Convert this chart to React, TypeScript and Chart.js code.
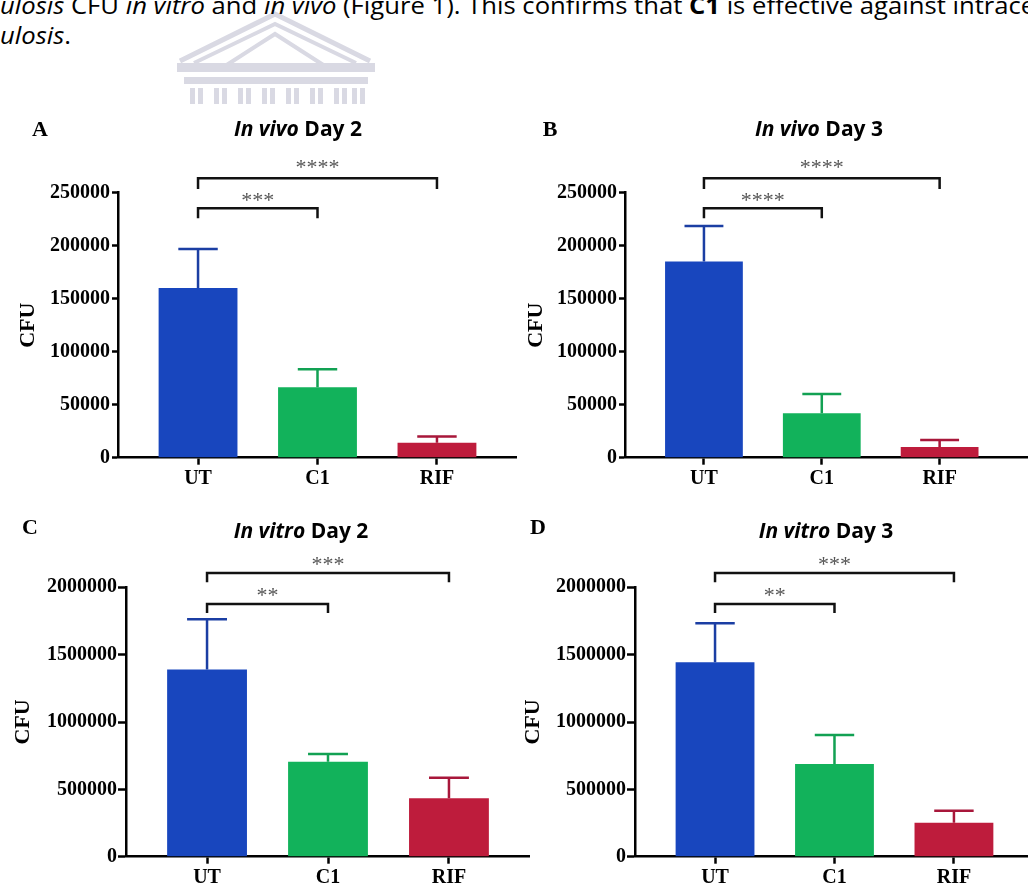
import React, { useEffect, useRef } from "react";
import { Chart, registerables } from "chart.js";

Chart.register(...registerables);

// ---------- data ----------
const categories = ["UT", "C1", "RIF"];
const panelLetters = ["A", "B", "C", "D"];
const titleItalic = ["In vivo", "In vivo", "In vitro", "In vitro"];
const titleRest = [" Day 2", " Day 3", " Day 2", " Day 3"];

const meansA = [160000, 66500, 14000];
const sdA = [37000, 17000, 6000];
const meansB = [185000, 42000, 10000];
const sdB = [33600, 18000, 6800];
const meansC = [1390000, 705000, 433000];
const sdC = [372000, 57000, 153000];
const meansD = [1443000, 688000, 252000];
const sdD = [290000, 215000, 90000];

// [UT vs C1, UT vs RIF]
const starsA = ["***", "****"];
const starsB = ["****", "****"];
const starsC = ["**", "***"];
const starsD = ["**", "***"];

const yMaxInVivo = 250000;
const yStepInVivo = 50000;
const yMaxInVitro = 2000000;
const yStepInVitro = 500000;

// ---------- styles ----------
const barColors = ["#1846be", "#12b25b", "#be1c3c"];
const errColors = ["#1b3ea3", "#12a153", "#a8173a"];
const SERIF = '"Liberation Serif", "Times New Roman", serif';
const SANS = '"Open Sans", "Noto Sans", sans-serif';

type Layout = {
  left: number; top: number; w: number; h: number;
  plotLeft: number; plotTop: number; plotBottom: number;
  xMin: number; xMax: number;
  yTick: number; yPad: number; cfuPad: number;
  letterX: number; letterY: number; titleX: number; titleY: number;
  off: { outerY: number; outerLeg: number; innerY: number; innerLeg: number; outerStar: number; innerStar: number };
};

const offVivo = { outerY: -14.5, outerLeg: -3.7, innerY: 15.5, innerLeg: 25.5, outerStar: -28.5, innerStar: 4.2 };
const offVitro = { outerY: -14.3, outerLeg: -5, innerY: 16.7, innerLeg: 25.7, outerStar: -26.3, innerStar: 4.7 };

const layouts: Layout[] = [
  { left: 0, top: 110, w: 517, h: 390, plotLeft: 118, plotTop: 82.7, plotBottom: 347.7, xMin: -0.67, xMax: 2.67,
    yTick: 6, yPad: 2, cfuPad: 15, letterX: 40, letterY: 20, titleX: 298, titleY: 20, off: offVivo },
  { left: 500, top: 110, w: 528, h: 390, plotLeft: 125, plotTop: 82.7, plotBottom: 347.7, xMin: -0.67, xMax: 2.75,
    yTick: 6, yPad: 2, cfuPad: 23, letterX: 50, letterY: 20, titleX: 319, titleY: 20, off: offVivo },
  { left: 0, top: 500, w: 530, h: 386, plotLeft: 126, plotTop: 87.3, plotBottom: 356.7, xMin: -0.67, xMax: 2.67,
    yTick: 8, yPad: 1, cfuPad: 10, letterX: 30, letterY: 28, titleX: 301, titleY: 32, off: offVitro },
  { left: 500, top: 500, w: 528, h: 386, plotLeft: 135, plotTop: 87.3, plotBottom: 356.7, xMin: -0.67, xMax: 2.62,
    yTick: 8, yPad: 1, cfuPad: 20, letterX: 38, letterY: 28, titleX: 326, titleY: 32, off: offVitro },
];

const panelMeans = [meansA, meansB, meansC, meansD];
const panelSd = [sdA, sdB, sdC, sdD];
const panelStars = [starsA, starsB, starsC, starsD];
const panelYMax = [yMaxInVivo, yMaxInVivo, yMaxInVitro, yMaxInVitro];
const panelYStep = [yStepInVivo, yStepInVivo, yStepInVitro, yStepInVitro];

function makeDecor(idx: number) {
  const L = layouts[idx];
  const means = panelMeans[idx];
  const sd = panelSd[idx];
  const stars = panelStars[idx];
  return {
    id: "panelDecor" + idx,
    afterDatasetsDraw(chart: any) {
      const ctx = chart.ctx;
      const meta = chart.getDatasetMeta(0);
      const ys = chart.scales.y;
      meta.data.forEach((bar: any, i: number) => {
        const { x, y, width } = bar.getProps(["x", "y", "width"], true);
        const top = ys.getPixelForValue(means[i] + sd[i]);
        ctx.save();
        ctx.strokeStyle = errColors[i];
        ctx.lineWidth = 2.5;
        ctx.beginPath();
        ctx.moveTo(x, y);
        ctx.lineTo(x, top);
        ctx.moveTo(x - width / 4, top);
        ctx.lineTo(x + width / 4, top);
        ctx.stroke();
        ctx.restore();
      });
    },
    afterDraw(chart: any) {
      const ctx = chart.ctx;
      const xs = chart.scales.x;
      const top = chart.chartArea.top;
      ctx.save();
      // panel letter
      ctx.fillStyle = "#000";
      ctx.font = `bold 22px ${SERIF}`;
      ctx.textAlign = "center";
      ctx.textBaseline = "middle";
      ctx.fillText(panelLetters[idx], L.letterX, L.letterY);
      // title with italic part
      const fItal = `italic 700 21px ${SANS}`;
      const fReg = `700 21px ${SANS}`;
      ctx.font = fItal;
      const w1 = ctx.measureText(titleItalic[idx]).width;
      ctx.font = fReg;
      const w2 = ctx.measureText(titleRest[idx]).width;
      const sx = L.titleX - (w1 + w2) / 2;
      ctx.textAlign = "left";
      ctx.font = fItal;
      ctx.fillText(titleItalic[idx], sx, L.titleY);
      ctx.font = fReg;
      ctx.fillText(titleRest[idx], sx + w1, L.titleY);
      // significance brackets
      const x0 = xs.getPixelForValue(0);
      const comps = [
        { to: 1, s: stars[0], y: L.off.innerY, leg: L.off.innerLeg, sy: L.off.innerStar },
        { to: 2, s: stars[1], y: L.off.outerY, leg: L.off.outerLeg, sy: L.off.outerStar },
      ];
      comps.forEach((c) => {
        const x1 = xs.getPixelForValue(c.to);
        ctx.strokeStyle = "#111";
        ctx.lineWidth = 2.5;
        ctx.lineJoin = "miter";
        ctx.beginPath();
        ctx.moveTo(x0, top + c.leg);
        ctx.lineTo(x0, top + c.y);
        ctx.lineTo(x1, top + c.y);
        ctx.lineTo(x1, top + c.leg);
        ctx.stroke();
        ctx.fillStyle = "#555";
        ctx.font = `22px ${SERIF}`;
        ctx.textAlign = "center";
        ctx.textBaseline = "alphabetic";
        ctx.fillText(c.s, (x0 + x1) / 2, top + c.sy + 10);
      });
      ctx.restore();
    },
  };
}

function Panel({ idx }: { idx: number }) {
  const ref = useRef<HTMLCanvasElement>(null);
  const L = layouts[idx];
  useEffect(() => {
    const means = panelMeans[idx];
    const chart = new Chart(ref.current as HTMLCanvasElement, {
      type: "bar",
      data: {
        datasets: [
          {
            data: categories.map((_, i) => ({ x: i, y: means[i] })) as any,
            backgroundColor: barColors,
            borderWidth: 0,
            barPercentage: 0.66,
            categoryPercentage: 1,
          },
        ],
      },
      options: {
        responsive: false,
        animation: false,
        devicePixelRatio: 1,
        layout: { padding: { left: 0, top: L.plotTop, right: 0, bottom: 0 } },
        plugins: { legend: { display: false }, tooltip: { enabled: false }, title: { display: false } },
        scales: {
          x: {
            type: "linear",
            min: L.xMin,
            max: L.xMax,
            bounds: "data",
            offset: false,
            afterBuildTicks: (s: any) => {
              s.ticks = categories.map((_, i) => ({ value: i }));
            },
            afterFit: (s: any) => {
              s.height = L.h - L.plotBottom;
            },
            ticks: {
              callback: (v: any) => categories[Math.round(Number(v))] ?? "",
              font: { family: SERIF, weight: "bold", size: 20 },
              color: "#000",
              padding: 2,
              maxRotation: 0,
              autoSkip: false,
            },
            grid: { display: true, drawOnChartArea: false, drawTicks: true, tickLength: 7, tickWidth: 2.5, tickColor: "#000", offset: false },
            border: { display: true, color: "#000", width: 2.5 },
          },
          y: {
            type: "linear",
            min: 0,
            max: panelYMax[idx],
            afterFit: (s: any) => {
              s.width = L.plotLeft;
            },
            ticks: {
              stepSize: panelYStep[idx],
              callback: (v: any) => String(v),
              font: { family: SERIF, weight: "bold", size: 20 },
              color: "#000",
              padding: L.yPad,
            },
            grid: { display: true, drawOnChartArea: false, drawTicks: true, tickLength: L.yTick, tickWidth: 2.5, tickColor: "#000" },
            border: { display: true, color: "#000", width: 2.5 },
            title: {
              display: true,
              text: "CFU",
              color: "#000",
              font: { family: SERIF, weight: "bold", size: 22 },
              padding: { top: L.cfuPad, bottom: 0 },
            },
          },
        },
      } as any,
      plugins: [makeDecor(idx)],
    });
    return () => chart.destroy();
  }, [idx]);
  return (
    <canvas
      ref={ref}
      width={L.w}
      height={L.h}
      style={{ position: "absolute", left: L.left, top: L.top, width: L.w, height: L.h }}
    />
  );
}

function Watermark() {
  const c = "#d9d9e3";
  const cols = [190, 198, 214, 222, 238, 246, 262, 270, 286, 294, 310, 318, 334, 342, 352, 360];
  return (
    <svg width={1028} height={110} style={{ position: "absolute", left: 0, top: 0 }}>
      <polyline points="180,61 275,14 370,61" fill="none" stroke={c} strokeWidth={5} />
      <polyline points="194,63 275,24 356,63" fill="none" stroke={c} strokeWidth={4} />
      <polyline points="222,68 275,34 328,68" fill="none" stroke={c} strokeWidth={4} />
      <rect x={177} y={63} width={198} height={9} fill={c} />
      <rect x={184} y={77} width={184} height={7} fill={c} />
      {cols.map((x, i) => (
        <rect key={i} x={x} y={88} width={5} height={16} fill={c} />
      ))}
    </svg>
  );
}

export default function App() {
  return (
    <div style={{ position: "absolute", left: 0, top: 0, width: 1028, height: 886, overflow: "hidden", background: "#fff" }}>
      <Watermark />
      <div
        style={{
          position: "absolute", left: 0, top: -9, whiteSpace: "nowrap",
          fontFamily: SANS, fontSize: 22.8, lineHeight: "30px", color: "#000",
          transform: "scaleX(1.125)", transformOrigin: "0 0",
        }}
      >
        <div>
          <i>ulosis</i> CFU <i>in vitro</i> and <i>in vivo</i> (Figure 1). This confirms that <b>C1</b> is effective against intracellular
        </div>
        <div>
          <i>ulosis</i>.
        </div>
      </div>
      {layouts.map((_, i) => (
        <Panel key={i} idx={i} />
      ))}
    </div>
  );
}
